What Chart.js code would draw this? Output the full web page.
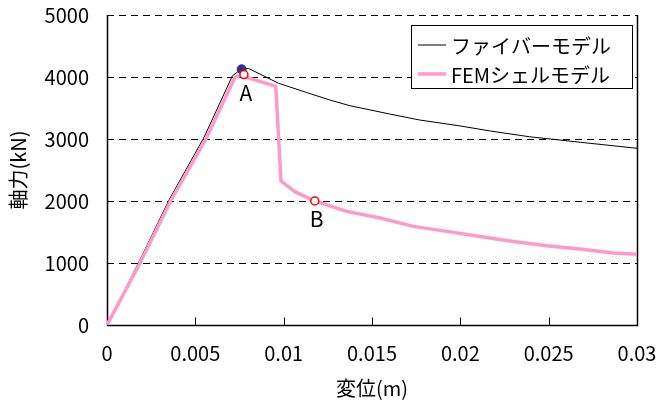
<!DOCTYPE html>
<html lang="ja">
<head>
<meta charset="UTF-8">
<title>軸力-変位</title>
<script src="https://cdn.jsdelivr.net/npm/chart.js"></script>
<style>
  html, body { margin: 0; padding: 0; background: #fff; }
  #wrap { width: 660px; height: 408px; }
</style>
</head>
<body>
<div id="wrap"><canvas id="myChart" width="660" height="408"></canvas></div>

<script>
// tick labels
const xTickLabels = ['0', '0.005', '0.01', '0.015', '0.02', '0.025', '0.03'];
const yTickLabels = ['0', '1000', '2000', '3000', '4000', '5000'];

// ファイバーモデル
const fiberX = [0, 0.0018, 0.0035, 0.0055, 0.0071, 0.0076, 0.0080, 0.0097, 0.0113, 0.0126, 0.01375, 0.0160, 0.0177, 0.0200, 0.0217, 0.0239, 0.0268, 0.0300];
const fiberY = [0, 1010, 2010, 3030, 4020, 4125, 4140, 3900, 3750, 3630, 3537, 3403, 3306, 3210, 3129, 3037, 2947, 2850];

// FEMシェルモデル
const femX = [0, 0.00187, 0.0036, 0.0056, 0.00725, 0.00775, 0.0080, 0.00955, 0.00985, 0.01064, 0.01176, 0.01357, 0.01545, 0.01734, 0.01923, 0.02111, 0.0230, 0.02489, 0.02677, 0.02866, 0.0300];
const femY = [0, 1000, 2000, 3000, 4000, 4040, 3985, 3850, 2320, 2150, 2000, 1833, 1726, 1591, 1510, 1429, 1348, 1278, 1225, 1160, 1140];

// marked points
const peakX = [0.00762];
const peakY = [4125];
const markX = [0.00775, 0.01176];
const markY = [4040, 2000];
const markLabels = ['A', 'B'];

const FONT = '"Noto Sans CJK JP", "Noto Sans", sans-serif';

const toPts = (xs, ys) => xs.map((x, i) => ({ x: x, y: ys[i] }));

// frame, dashed grid, inward ticks, labels A/B, legend, axis titles
const decorations = {
    id: 'decorations',
    beforeDatasetsDraw(chart) {
        const ctx = chart.ctx;
        const a = chart.chartArea;
        const xs = chart.scales.x, ys = chart.scales.y;
        ctx.save();
        ctx.strokeStyle = '#000';
        ctx.lineWidth = 1;
        // dashed horizontal grid
        ctx.setLineDash([7, 5]);
        ys.ticks.forEach(t => {
            if (t.value === 0) return;
            const y = Math.round(ys.getPixelForValue(t.value)) + 0.5;
            ctx.beginPath();
            ctx.moveTo(a.left, y);
            ctx.lineTo(a.right, y);
            ctx.stroke();
        });
        ctx.setLineDash([]);
        // left, bottom, right
        const l = Math.round(a.left) + 0.5, r = Math.round(a.right) + 0.5, b = Math.round(a.bottom) + 0.5;
        ctx.lineWidth = 1.5;
        ctx.beginPath();
        ctx.moveTo(l, a.top);
        ctx.lineTo(l, b);
        ctx.lineTo(r, b);
        ctx.lineTo(r, a.top);
        ctx.stroke();
        // inward x ticks
        ctx.lineWidth = 1;
        xs.ticks.forEach(t => {
            const x = Math.round(xs.getPixelForValue(t.value)) + 0.5;
            ctx.beginPath();
            ctx.moveTo(x, b);
            ctx.lineTo(x, b - 8);
            ctx.stroke();
        });
        ctx.restore();
    },
    afterDraw(chart) {
        const ctx = chart.ctx;
        const xs = chart.scales.x, ys = chart.scales.y;
        ctx.save();
        ctx.fillStyle = '#000';
        // A / B labels
        ctx.font = '21px ' + FONT;
        ctx.textAlign = 'center';
        ctx.textBaseline = 'middle';
        markLabels.forEach((s, i) => {
            ctx.fillText(s, xs.getPixelForValue(markX[i]) + 2, ys.getPixelForValue(markY[i]) + 18);
        });
        // axis titles
        ctx.font = '20px ' + FONT;
        ctx.fillText('変位(m)', 372, 388);
        ctx.save();
        ctx.translate(18, 170);
        ctx.rotate(-Math.PI / 2);
        ctx.fillText('軸力(kN)', 0, 0);
        ctx.restore();
        // legend
        const bx = 411.5, by = 25.5, bw = 221, bh = 63;
        ctx.fillStyle = '#fff';
        ctx.fillRect(bx, by, bw, bh);
        ctx.strokeStyle = '#000';
        ctx.lineWidth = 1;
        ctx.strokeRect(bx, by, bw, bh);
        const items = chart.data.datasets.filter(d => d.legendRow !== undefined)
            .sort((p, q) => p.legendRow - q.legendRow);
        const rows = [45, 74];
        ctx.font = '20px ' + FONT;
        ctx.textAlign = 'left';
        items.forEach((d, i) => {
            ctx.strokeStyle = d.borderColor;
            ctx.lineWidth = d.borderWidth;
            ctx.beginPath();
            ctx.moveTo(418, rows[i]);
            ctx.lineTo(446, rows[i]);
            ctx.stroke();
            ctx.fillStyle = '#000';
            ctx.fillText(d.label, 451, rows[i] + 1);
        });
        ctx.restore();
    }
};

const ctx = document.getElementById('myChart').getContext('2d');

const myChart = new Chart(ctx, {
    type: 'scatter',
    data: {
        datasets: [
            {
                label: 'A/B',
                data: toPts(markX, markY),
                showLine: false,
                pointRadius: 4,
                pointBackgroundColor: '#fff',
                pointBorderColor: '#ff0000',
                pointBorderWidth: 1.5,
                order: 0
            },
            {
                label: 'peak',
                data: toPts(peakX, peakY),
                showLine: false,
                pointRadius: 4.5,
                pointBackgroundColor: '#2e3192',
                pointBorderColor: '#2e3192',
                order: 1
            },
            {
                label: 'FEMシェルモデル',
                legendRow: 1,
                data: toPts(femX, femY),
                showLine: true,
                borderColor: '#ff99cc',
                borderWidth: 3.5,
                pointRadius: 0,
                tension: 0,
                order: 2
            },
            {
                label: 'ファイバーモデル',
                legendRow: 0,
                data: toPts(fiberX, fiberY),
                showLine: true,
                borderColor: '#000',
                borderWidth: 1,
                pointRadius: 0,
                tension: 0,
                order: 3
            }
        ]
    },
    options: {
        responsive: false,
        animation: false,
        events: [],
        layout: { padding: { top: 15, right: 23, left: 0, bottom: 0 } },
        plugins: {
            legend: { display: false },
            tooltip: { enabled: false }
        },
        scales: {
            x: {
                type: 'linear',
                min: 0,
                max: 0.03,
                grid: { display: false, drawTicks: false },
                border: { display: false },
                ticks: {
                    stepSize: 0.005,
                    padding: 16,
                    color: '#000',
                    font: { family: FONT, size: 20 },
                    maxRotation: 0,
                    callback: (v, i) => xTickLabels[i]
                },
                afterFit: s => { s.height = 83; s.paddingLeft = 0; s.paddingRight = 0; }
            },
            y: {
                min: 0,
                max: 5000,
                grid: { display: false, drawTicks: false },
                border: { display: false },
                ticks: {
                    stepSize: 1000,
                    padding: 18,
                    color: '#000',
                    font: { family: FONT, size: 20 },
                    callback: (v, i) => yTickLabels[i]
                },
                afterFit: s => { s.width = 107; s.paddingTop = 0; s.paddingBottom = 0; }
            }
        }
    },
    plugins: [decorations]
});
</script>
</body>
</html>
